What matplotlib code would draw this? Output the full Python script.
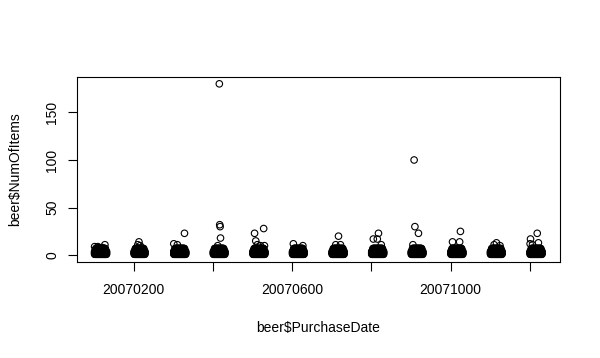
import matplotlib
matplotlib.use("Agg")
import matplotlib.pyplot as plt

# purchase months in 2007 and how many days each has
months = [1, 2, 3, 4, 5, 6, 7, 8, 9, 10, 11, 12]
month_days = [31, 28, 31, 30, 31, 30, 31, 31, 30, 31, 30, 31]
# the everyday item counts that pile up into the black blobs
everyday_counts = [1, 2, 3, 4, 5, 6, 7]
edge_counts = [1, 2, 3, 4]

# larger purchases (date as yyyymmdd number, items)
extra_dates = [20070101, 20070127, 20070113, 20070109, 20070120,
               20070213, 20070210, 20070216,
               20070301, 20070310, 20070328,
               20070416, 20070417, 20070418, 20070419, 20070412,
               20070508, 20070512, 20070528, 20070505, 20070520, 20070530,
               20070603, 20070627,
               20070717, 20070710, 20070722,
               20070818, 20070805, 20070815, 20070825,
               20070908, 20070910, 20070919, 20070905,
               20071025, 20071005, 20071023,
               20071116, 20071110, 20071125,
               20071219, 20071202, 20071222, 20071201, 20071207]
extra_items = [9, 11, 8, 9, 8,
               14, 11, 10,
               12, 11, 23,
               180, 32, 30, 18, 10,
               15, 11, 28, 23, 10, 10,
               12, 10,
               20, 11, 11,
               23, 17, 17, 11,
               100, 30, 23, 11,
               25, 14, 14,
               13, 11, 10,
               23, 17, 13, 12, 11]

x_ticks = [20070200, 20070400, 20070600, 20070800, 20071000, 20071200]
x_tick_labels = ["20070200", "", "20070600", "", "20071000", ""]
y_ticks = [0, 50, 100, 150]

dates = []
items = []
for m, ndays in zip(months, month_days):
    for d in range(1, ndays + 1):
        counts = edge_counts if d <= 3 or d > ndays - 3 else everyday_counts
        for c in counts:
            dates.append(20070000 + m * 100 + d)
            items.append(c)
dates += extra_dates
items += extra_items

plt.rcParams["font.family"] = ["Liberation Sans", "DejaVu Sans"]
fig = plt.figure(figsize=(6, 3.58), dpi=100)
ax = fig.add_axes([0.128, 0.268, 0.805, 0.517])

ax.scatter(dates, items, s=22, facecolors="none", edgecolors="black",
           linewidths=0.8)

ax.set_xlim(20070056, 20071276)
ax.set_ylim(-7.2, 187.2)
ax.set_xticks(x_ticks)
ax.set_xticklabels(x_tick_labels)
ax.set_yticks(y_ticks)
ax.set_yticklabels([str(v) for v in y_ticks], rotation=90, va="center")
ax.tick_params(direction="out", length=6.5, width=0.8, labelsize=10,
               colors="black")
ax.tick_params(axis="x", pad=8.5)
ax.tick_params(axis="y", pad=6)
for s in ax.spines.values():
    s.set_linewidth(0.8)

ax.set_xlabel("beer$PurchaseDate", fontsize=10, labelpad=17)
ax.set_ylabel("beer$NumOfItems", fontsize=10, labelpad=17)

fig.savefig("out.png", dpi=100)
